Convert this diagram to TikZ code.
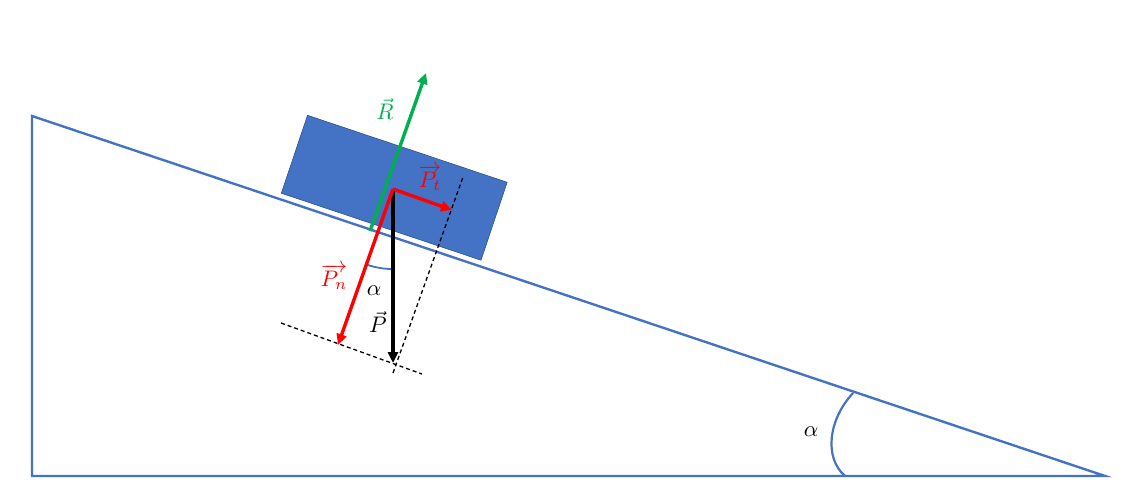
\documentclass[tikz,border=0pt]{standalone}
\usepackage{graphicx}
\usetikzlibrary{arrows.meta}
\definecolor{incl}{HTML}{4472C4}
\definecolor{incldark}{HTML}{2F528F}
\definecolor{rgreen}{HTML}{00B050}
\newcommand{\biglab}[1]{\scalebox{2.25}{#1}}
\begin{document}
\begin{tikzpicture}[x=1pt,y=-1pt,
  incline/.style={draw=incl,line width=2.4pt},
  force/.style={line width=3.4pt,-{Triangle[length=11pt,width=10pt]}},
  helper/.style={draw=black,line width=1.3pt,dash pattern=on 4pt off 3pt},
  lab/.style={inner sep=0pt},
  blockbox/.style={draw=incldark,fill=incl,line width=0.6pt,minimum width=210.6pt,minimum height=82.2pt,inner sep=0pt}]
\useasboundingbox (0,0) rectangle (1123,499);
% incline
\coordinate (TL) at (32,116);
\coordinate (BL) at (32,476);
\coordinate (BR) at (1105,476);
\draw[incline] (TL) -- (BL) -- (BR) -- cycle;
% big angle arc
\coordinate (a1) at (853,393);
\coordinate (a2) at (845,476);
\draw[incl,line width=2.2pt] (a1) .. controls (828,420) and (824,458) .. (a2);
\node[lab] (alpha2) at (811,432) {\biglab{$\alpha$}};
% block
\node[blockbox,rotate=-18.55] (block) at (394.25,187.75) {};
% force origin and tips
\coordinate (O) at (393,189);
\coordinate (Ptip) at (393,363);
\coordinate (Pttip) at (452,210);
\coordinate (Pntip) at (338,345);
\coordinate (Rs) at (370,231);
\coordinate (Rtip) at (426,73);
% dashed helpers
\coordinate (d1) at (281,323);
\coordinate (d2) at (422,374);
\coordinate (d3) at (393,373);
\coordinate (d4) at (463,177);
\draw[helper] (d1) -- (d2);
\draw[helper] (d3) -- (d4);
% small angle arc
\coordinate (sa) at (367.6,264.9);
\draw[incl,line width=1.8pt] (sa) arc[start angle=108.55,end angle=90,radius=80];
% forces
\draw[force,rgreen] (Rs) -- (Rtip);
\draw[force,black] (O) -- (Ptip);
\draw[force,red] (O) -- (Pttip);
\draw[force,red] (O) -- (Pntip);
% labels
\node[lab,text=rgreen] (Rl) at (385,109) {\biglab{$\vec{R}$}};
\node[lab,text=red] (Ptl) at (430,178) {\biglab{$\overrightarrow{P_t}$}};
\node[lab,text=red] (Pnl) at (334,277) {\biglab{$\overrightarrow{P_n}$}};
\node[lab] (Pl) at (378,322) {\biglab{$\vec{P}$}};
\node[lab] (alpha1) at (374,291) {\biglab{$\alpha$}};
\end{tikzpicture}
\end{document}
